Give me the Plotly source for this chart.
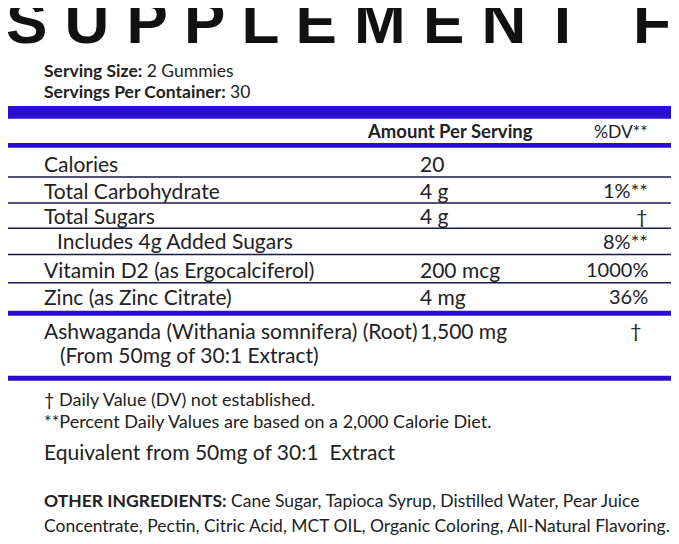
import plotly.graph_objects as go

# Label content
nutrients = ['Calories', 'Total Carbohydrate', 'Total Sugars', '  Includes 4g Added Sugars',
             'Vitamin D2 (as Ergocalciferol)', 'Zinc (as Zinc Citrate)']
amounts = ['20', '4 g', '4 g', '', '200 mcg', '4 mg']
dvs = ['', '1%**', '†', '8%**', '1000%', '36%']
row_y = [160, 188, 214, 240, 269, 297]
line_y = [174, 201, 227, 254, 283]

BLUE = '#2a0ecf'
NAVY = '#1a1a4a'
FONT = 'Lato, Noto Sans, sans-serif'

fig = go.Figure()
fig.add_trace(go.Scatter(x=[0, 679], y=[0, 544], mode='markers',
                         marker=dict(opacity=0), hoverinfo='skip'))

def text(x, y, s, size=21, anchor='left', color='#222', bold=False):
    if bold:
        s = f'<b>{s}</b>'
    fig.add_annotation(x=x, y=y, text=s, showarrow=False, xanchor=anchor,
                       yanchor='middle', font=dict(family=FONT, size=size, color=color))

def bar(y0, y1, color=BLUE):
    fig.add_shape(type='rect', x0=0, x1=679, y0=y0, y1=y1, fillcolor=color,
                  line=dict(width=0))

# Title (clipped at top in the original)
fig.add_annotation(x=0, y=14, text='<b>S U P P L E M E N T   F A C T S</b>', showarrow=False,
                   xanchor='left', yanchor='middle', xshift=-4,
                   font=dict(family='Liberation Sans', size=62, color='#111'))
text(35, 64, '<b>Serving Size:</b> 2 Gummies', 17.5)
text(35, 86, '<b>Servings Per Container:</b> 30', 17.5)

bar(101, 114)
text(540, 127, 'Amount Per Serving', 18.5, 'right', bold=True)
text(657, 127, '%DV**', 17.5, 'right')
bar(139, 144)

for name, amt, dv, y in zip(nutrients, amounts, dvs, row_y):
    text(35 if not name.startswith(' ') else 48, y, name.strip())
    text(420, y, amt)
    text(657, y, dv, 20, 'right')
for y in line_y:
    fig.add_shape(type='line', x0=0, x1=679, y0=y, y1=y, line=dict(color=NAVY, width=1.5))

bar(312, 317)
text(35, 332, 'Ashwaganda (Withania somnifera) (Root)')
text(51, 357, '(From 50mg of 30:1 Extract)')
text(420, 332, '1,500 mg')
text(651, 332, '†', 20, 'right')
bar(379, 384)

text(35, 403, '† Daily Value (DV) not established.', 18)
text(35, 426, '**Percent Daily Values are based on a 2,000 Calorie Diet.', 18)
text(35, 457, 'Equivalent from 50mg of 30:1  Extract', 21)
text(35, 507, '<b>OTHER INGREDIENTS:</b> Cane Sugar, Tapioca Syrup, Distilled Water, Pear Juice', 17.5)
text(35, 533, 'Concentrate, Pectin, Citric Acid, MCT OIL, Organic Coloring, All-Natural Flavoring.', 17.5)

fig.update_xaxes(range=[0, 679], visible=False)
fig.update_yaxes(range=[544, 0], visible=False)
fig.update_layout(autosize=True, margin=dict(l=0, r=0, t=0, b=0),
                  plot_bgcolor='white', paper_bgcolor='white', showlegend=False)
fig.write_html('out.html')
